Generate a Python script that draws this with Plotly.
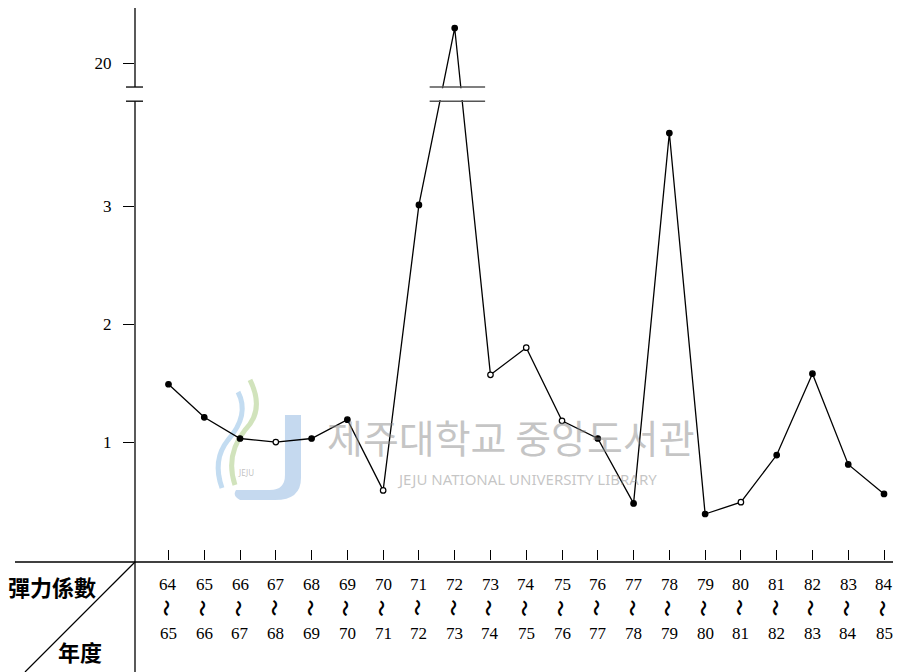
import plotly.graph_objects as go

# ---------------- data ----------------
period_start = ["64", "65", "66", "67", "68", "69", "70", "71", "72", "73", "74",
                "75", "76", "77", "78", "79", "80", "81", "82", "83", "84"]
period_end = ["65", "66", "67", "68", "69", "70", "71", "72", "73", "74", "75",
              "76", "77", "78", "79", "80", "81", "82", "83", "84", "85"]
elasticity = [1.49, 1.21, 1.03, 1.00, 1.03, 1.19, 0.59, 3.01, 20.3, 1.57, 1.80,
              1.18, 1.03, 0.48, 3.62, 0.39, 0.49, 0.89, 1.58, 0.81, 0.56]
open_marker = [False, False, False, True, False, False, True, False, False, True, True,
               True, False, False, False, False, True, False, False, False, False]
y_tick_values = [1, 2, 3, 20]

# ---------------- broken axis settings ----------------
BREAK_LOW = 3.89      # lower segment ends here
BREAK_HIGH = 4.01     # upper segment starts here (display units)
UPPER_SHIFT = 15.79   # values above the break are shown shifted down by this
Y_MAX = 4.68


def to_display(v):
    return v if v < BREAK_LOW else v - UPPER_SHIFT


x_idx = list(range(len(elasticity)))
y_disp = [to_display(v) for v in elasticity]

# page body adds an 8px offset; figure is sized so it lands where the reference is
OFF = 8
W, H = 901 - OFF, 672 - OFF
L, R, T, B = 135 - OFF, 0, 0, 112
PW, PH = W - L - R, H - T - B


def px(xp):          # reference page x pixel -> paper
    return (xp - OFF - L) / PW


def py(yp):          # reference page y pixel -> paper
    return (H - B - (yp - OFF)) / PH


X_MIN, X_MAX = -0.936, 20.475

fig = go.Figure()

fig.add_trace(go.Scatter(
    x=x_idx, y=y_disp, mode="lines+markers",
    line=dict(color="black", width=1.3),
    marker=dict(size=5.5, symbol="circle",
                color=["white" if o else "black" for o in open_marker],
                line=dict(color="black", width=1.2)),
    cliponaxis=False, hoverinfo="skip", showlegend=False,
))

shapes = []
line_style = dict(color="black", width=1.3)

# y axis line (with gap) extending down into the table header
shapes.append(dict(type="line", xref="paper", yref="paper", x0=0, x1=0,
                   y0=BREAK_HIGH / Y_MAX, y1=1, line=line_style))
shapes.append(dict(type="line", xref="paper", yref="paper", x0=0, x1=0,
                   y0=py(672), y1=BREAK_LOW / Y_MAX, line=line_style))
# break caps on y axis
for yb in (BREAK_LOW, BREAK_HIGH):
    shapes.append(dict(type="line", xref="paper", yref="paper",
                       x0=px(126), x1=px(143), y0=yb / Y_MAX, y1=yb / Y_MAX,
                       line=line_style))
# x axis line
shapes.append(dict(type="line", xref="paper", yref="paper", x0=px(15), x1=1,
                   y0=py(562), y1=py(562), line=line_style))
# diagonal header line
shapes.append(dict(type="line", xref="paper", yref="paper", x0=0, x1=px(25),
                   y0=py(562), y1=py(672), line=dict(color="black", width=1.2)))
# break on the data line
shapes.append(dict(type="rect", xref="x", yref="y", x0=7.25, x1=8.9,
                   y0=BREAK_LOW + 0.01, y1=BREAK_HIGH - 0.01,
                   fillcolor="white", line=dict(width=0), layer="above"))
for yb in (BREAK_LOW, BREAK_HIGH):
    shapes.append(dict(type="line", xref="x", yref="y", x0=7.3, x1=8.85,
                       y0=yb, y1=yb, line=dict(color="#555", width=1.6),
                       layer="above"))


# watermark logo (faint)
def ppath(points, close=False):
    s = ""
    for cmd, a, b in points:
        s += f"{cmd} {px(a):.4f},{py(b):.4f} "
    return s + ("Z" if close else "")


shapes.append(dict(type="path", xref="paper", yref="paper", layer="below",
                   path=ppath([("M", 285, 415), ("L", 301, 415), ("L", 301, 478),
                               ("Q", 301, 500), ("", 275, 500), ("L", 240, 500),
                               ("Q", 232, 496), ("", 236, 490), ("L", 270, 490),
                               ("Q", 285, 490), ("", 285, 475)], close=True),
                   fillcolor="rgba(150,185,225,0.55)", line=dict(width=0)))
shapes.append(dict(type="path", xref="paper", yref="paper", layer="below",
                   path=ppath([("M", 250, 380), ("Q", 265, 410), ("", 245, 430),
                               ("Q", 225, 455), ("", 235, 485)]),
                   line=dict(color="rgba(190,215,160,0.7)", width=5)))
shapes.append(dict(type="path", xref="paper", yref="paper", layer="below",
                   path=ppath([("M", 238, 392), ("Q", 250, 415), ("", 228, 440),
                               ("Q", 212, 460), ("", 222, 488)]),
                   line=dict(color="rgba(170,205,235,0.7)", width=5)))

annotations = []
num_font = dict(family="Liberation Serif", size=17, color="black")
for i in x_idx:
    annotations.append(dict(x=i, y=py(584), xref="x", yref="paper",
                            text=period_start[i], showarrow=False,
                            font=num_font, xanchor="center", yanchor="middle"))
    annotations.append(dict(x=i, y=py(608), xref="x", yref="paper",
                            text="<b>〜</b>", showarrow=False, textangle=90,
                            font=dict(family="Noto Sans CJK JP", size=17, color="black"),
                            xanchor="center", yanchor="middle"))
    annotations.append(dict(x=i, y=py(633), xref="x", yref="paper",
                            text=period_end[i], showarrow=False,
                            font=num_font, xanchor="center", yanchor="middle"))

annotations.append(dict(x=px(52), y=py(586), xref="paper", yref="paper",
                        text="<b>彈力係數</b>", showarrow=False,
                        xanchor="center", yanchor="middle",
                        font=dict(family="Noto Sans CJK TC", size=22, color="black")))
annotations.append(dict(x=px(80), y=py(651), xref="paper", yref="paper",
                        text="<b>年度</b>", showarrow=False,
                        xanchor="center", yanchor="middle",
                        font=dict(family="Noto Sans CJK TC", size=22, color="black")))

# watermark text
annotations.append(dict(x=px(511), y=py(436), xref="paper", yref="paper",
                        text="제주대학교 중앙도서관", showarrow=False,
                        xanchor="center", yanchor="middle",
                        font=dict(family="Noto Sans CJK KR", size=39,
                                  color="rgba(140,140,140,0.5)")))
annotations.append(dict(x=px(527), y=py(479), xref="paper", yref="paper",
                        text="JEJU NATIONAL UNIVERSITY LIBRARY", showarrow=False,
                        xanchor="center", yanchor="middle",
                        font=dict(family="Noto Sans", size=15,
                                  color="rgba(140,140,140,0.5)")))
annotations.append(dict(x=px(246), y=py(472), xref="paper", yref="paper",
                        text="JEJU", showarrow=False,
                        xanchor="center", yanchor="middle",
                        font=dict(family="Noto Sans", size=8,
                                  color="rgba(150,150,150,0.6)")))

fig.update_layout(
    width=W, height=H,
    margin=dict(l=L, r=R, t=T, b=B, pad=0),
    plot_bgcolor="white", paper_bgcolor="white",
    showlegend=False,
    shapes=shapes, annotations=annotations,
    xaxis=dict(range=[X_MIN, X_MAX], showgrid=False, zeroline=False,
               showline=False, tickmode="array", tickvals=x_idx,
               ticks="inside", ticklen=10, tickwidth=1.2, tickcolor="black",
               showticklabels=False, fixedrange=True),
    yaxis=dict(range=[0, Y_MAX], showgrid=False, zeroline=False,
               showline=False, tickmode="array",
               tickvals=[to_display(v) for v in y_tick_values],
               ticktext=[str(v) for v in y_tick_values],
               ticks="outside", ticklen=11, tickwidth=1.2, tickcolor="black",
               ticklabelstandoff=8,
               tickfont=dict(family="Liberation Serif", size=17, color="black"),
               fixedrange=True),
)

fig.write_html("out.html")
